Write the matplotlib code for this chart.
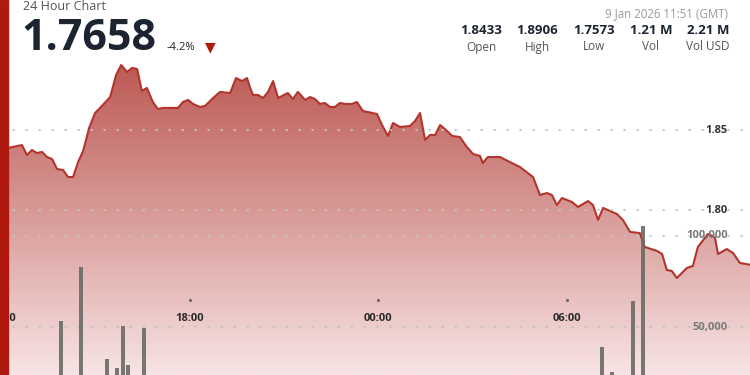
import numpy as np
import matplotlib
matplotlib.use('Agg')
import matplotlib.pyplot as plt
from matplotlib.colors import LinearSegmentedColormap
from matplotlib.patches import Rectangle

# price series: hours since 12:00 and price
hours = [0.21, 0.65, 0.81, 0.97, 1.13, 1.29, 1.45, 1.61, 1.77, 1.96, 2.12, 2.28, 2.44, 2.60,
         2.79, 2.98, 3.14, 3.46, 3.65, 3.81, 4.00, 4.16, 4.32, 4.47, 4.63, 4.82, 4.98, 5.14,
         5.62, 5.78, 5.94, 6.10, 6.32, 6.48, 6.74, 6.96, 7.28, 7.47, 7.66, 7.82, 7.91, 8.01,
         8.17, 8.33, 8.49, 8.65, 8.81, 9.12, 9.28, 9.44, 9.67, 9.83, 9.98, 10.14, 10.30,
         10.46, 10.62, 10.78, 10.94, 11.16, 11.32, 11.51, 11.96, 12.12, 12.31, 12.47, 12.69,
         13.01, 13.17, 13.33, 13.49, 13.65, 13.81, 13.97, 14.19, 14.35, 14.60, 14.82, 15.02,
         15.24, 15.33, 15.49, 15.88, 16.19, 16.51, 16.93, 17.15, 17.37, 17.53, 17.69, 17.85,
         18.17, 18.36, 18.68, 18.84, 19.00, 19.16, 19.60, 19.79, 20.02, 20.33, 20.49, 20.88,
         21.04, 21.19, 21.35, 21.51, 21.83, 22.02, 22.18, 22.50, 22.72, 22.82, 23.10, 23.30,
         23.52, 23.84]
price = [1.8388, 1.8406, 1.8344, 1.8375, 1.8356, 1.8363, 1.8331, 1.8319, 1.8256, 1.8250,
         1.8206, 1.8206, 1.8300, 1.8369, 1.8513, 1.8606, 1.8638, 1.8706, 1.8844, 1.8906,
         1.8863, 1.8888, 1.8881, 1.8744, 1.8763, 1.8675, 1.8631, 1.8638, 1.8638, 1.8675,
         1.8688, 1.8663, 1.8644, 1.8650, 1.8700, 1.8738, 1.8731, 1.8825, 1.8806, 1.8825,
         1.8769, 1.8719, 1.8719, 1.8700, 1.8738, 1.8806, 1.8700, 1.8731, 1.8694, 1.8738,
         1.8688, 1.8706, 1.8694, 1.8663, 1.8669, 1.8644, 1.8644, 1.8669, 1.8663, 1.8663,
         1.8675, 1.8619, 1.8600, 1.8531, 1.8463, 1.8544, 1.8519, 1.8525, 1.8556, 1.8606,
         1.8438, 1.8469, 1.8469, 1.8531, 1.8494, 1.8463, 1.8456, 1.8394, 1.8350, 1.8338,
         1.8294, 1.8331, 1.8331, 1.8300, 1.8269, 1.8206, 1.8094, 1.8106, 1.8094, 1.8031,
         1.8075, 1.8050, 1.8019, 1.8056, 1.8031, 1.7938, 1.8013, 1.7975, 1.7938, 1.7863,
         1.7856, 1.7769, 1.7744, 1.7725, 1.7625, 1.7619, 1.7575, 1.7638, 1.7650, 1.7769,
         1.7850, 1.7831, 1.7725, 1.7756, 1.7731, 1.7669, 1.7658]

# volume bars
vol_hours = [1.89, 2.53, 3.36, 3.68, 3.87, 4.03, 4.54, 19.12, 19.44, 20.11, 20.43]
volume = [53450, 83000, 32600, 27700, 50700, 29400, 49600, 39200, 25500, 64400, 105500]

tick_hours = [0, 6, 12, 18]
tick_labels = ['12:00', '18:00', '00:00', '06:00']
price_ticks = [1.85, 1.80]
vol_ticks = [100000, 50000]

stat_values = ['1.8433', '1.8906', '1.7573', '1.21 M', '2.21 M']
stat_names = ['Open', 'High', 'Low', 'Vol', 'Vol USD']

W, H = 750, 375
fig = plt.figure(figsize=(7.5, 3.75), dpi=100)
fig.patch.set_facecolor('white')
ax = fig.add_axes([0, 0, 1, 1])
ax.set_xlim(-0.048, 23.84)
ax.set_ylim(1.69688, 1.93125)
ax.axis('off')

# gradient fill under the line
cmap = LinearSegmentedColormap.from_list('g', ['#bd5a55', '#d99e9b', '#f7e4e4'])
grad = np.linspace(0, 1, 256).reshape(-1, 1)
im = ax.imshow(grad, cmap=cmap, aspect='auto', extent=[-0.048, 23.84, 1.69688, 1.89],
               origin='upper', zorder=1)
poly = ax.fill_between(hours, price, 1.60, color='none', lw=0)
im.set_clip_path(poly.get_paths()[0], transform=ax.transData)
ax.set_ylim(1.69688, 1.93125)
ax.plot(hours, price, color='#b3342c', lw=1.5, zorder=3, solid_joinstyle='round')

# price grid + labels
for p in price_ticks:
    ax.axhline(p, color='#c4c4c4', lw=1.2, ls=(0, (0.8, 7)), dash_capstyle='round', zorder=4)
    ax.text(728 / W, p, f'{p:.2f}', transform=ax.get_yaxis_transform(), ha='right',
            va='center', fontsize=8, fontweight='bold', color='#333333',
            family='Open Sans', zorder=6)

# time labels
for h, lab in zip(tick_hours, tick_labels):
    ax.text(h, 1.93125 - 318 / 1600, lab, ha='center', va='center', fontsize=8,
            fontweight='bold', color='#2a2a2a', family='Open Sans', zorder=6)
    ax.plot(h, 1.93125 - 300 / 1600, 'o', ms=1.2, color='#666666', zorder=6)

ax2 = ax.twinx()
ax2.set_ylim(23875, 229225)
ax2.axis('off')
ax2.bar(vol_hours, volume, width=0.14, color='#6b6a66', alpha=0.9, zorder=5)
for v in vol_ticks:
    ax2.axhline(v, color='#c4c4c4', lw=1.2, ls=(0, (0.8, 7)), dash_capstyle='round', zorder=4)
    ax2.text(728 / W, v, f'{v:,}', transform=ax2.get_yaxis_transform(), ha='right',
             va='center', fontsize=8, fontweight='bold', color='#7a7a7a',
             family='Open Sans', zorder=6)

# left red bar
fig.patches.append(Rectangle((0, 0), 8 / W, 1, transform=fig.transFigure,
                             color='#b0190f', zorder=10))

# header
fig.text(23 / W, 1 - 6 / H, '24 Hour Chart', ha='left', va='center', fontsize=9,
         color='#555555', family='Open Sans')
fig.text(21 / W, 1 - 38 / H, '1.7658', ha='left', va='center', fontsize=31,
         fontweight='bold', color='#1b2430', family='Open Sans')
fig.text(167 / W, 1 - 47 / H, '-4.2%', ha='left', va='center', fontsize=8,
         color='#222222', family='Open Sans')
fig.text(210 / W, 1 - 47 / H, '\u25BC', ha='center', va='center', fontsize=10,
         color='#b0190f', family='DejaVu Sans')
fig.text(728 / W, 1 - 14 / H, '9 Jan 2026 11:51 (GMT)', ha='right', va='center',
         fontsize=8.3, color='#9a9a9a', family='Open Sans')
stat_x = [481, 537, 594, 651, 708]
for sx, val, name in zip(stat_x, stat_values, stat_names):
    fig.text(sx / W, 1 - 31 / H, val, ha='center', va='center', fontsize=9.5,
             fontweight='bold', color='#1b2430', family='Open Sans')
    fig.text(sx / W, 1 - 47 / H, name, ha='center', va='center', fontsize=8.5,
             color='#555555', family='Open Sans')

fig.savefig('out.png', dpi=100)
